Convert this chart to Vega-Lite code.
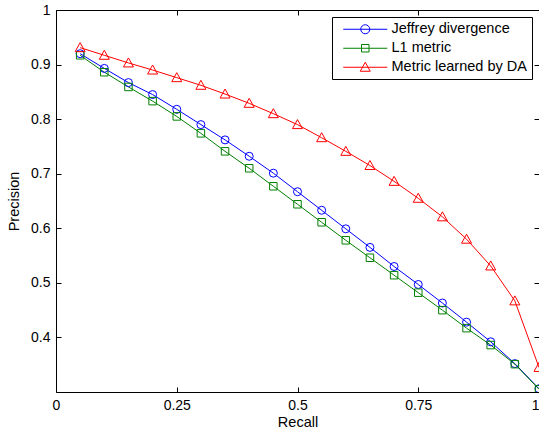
{
  "$schema": "https://vega.github.io/schema/vega-lite/v6.json",
  "width": 483,
  "height": 382,
  "autosize": {"type": "none"},
  "padding": {"left": 56, "top": 10, "right": 0, "bottom": 39},
  "background": "white",
  "config": {
    "font": "Liberation Sans",
    "view": {"stroke": "black", "strokeWidth": 1},
    "axis": {
      "grid": false,
      "domain": false,
      "tickColor": "black",
      "tickSize": -5,
      "tickWidth": 1,
      "labelColor": "black",
      "labelFont": "Liberation Sans",
      "labelFontSize": 14,
      "titleFont": "Liberation Sans",
      "titleFontSize": 14.5,
      "titleFontWeight": "normal",
      "titleColor": "black"
    },
    "legend": {
      "orient": "top-right",
      "offset": 7,
      "strokeColor": "black",
      "fillColor": "white",
      "padding": 5,
      "cornerRadius": 0,
      "labelFont": "Liberation Sans",
      "labelFontSize": 14.5,
      "labelColor": "black",
      "labelLimit": 0,
      "symbolSize": 100,
      "symbolStrokeWidth": 1,
      "rowPadding": 4,
      "labelOffset": 36,
      "symbolOffset": 4
    }
  },
  "data": {
    "values": [
      {"recall": 0.05, "precision": 0.920, "method": "Jeffrey divergence"},
      {"recall": 0.10, "precision": 0.893, "method": "Jeffrey divergence"},
      {"recall": 0.15, "precision": 0.867, "method": "Jeffrey divergence"},
      {"recall": 0.20, "precision": 0.845, "method": "Jeffrey divergence"},
      {"recall": 0.25, "precision": 0.818, "method": "Jeffrey divergence"},
      {"recall": 0.30, "precision": 0.790, "method": "Jeffrey divergence"},
      {"recall": 0.35, "precision": 0.762, "method": "Jeffrey divergence"},
      {"recall": 0.40, "precision": 0.732, "method": "Jeffrey divergence"},
      {"recall": 0.45, "precision": 0.701, "method": "Jeffrey divergence"},
      {"recall": 0.50, "precision": 0.667, "method": "Jeffrey divergence"},
      {"recall": 0.55, "precision": 0.633, "method": "Jeffrey divergence"},
      {"recall": 0.60, "precision": 0.599, "method": "Jeffrey divergence"},
      {"recall": 0.65, "precision": 0.565, "method": "Jeffrey divergence"},
      {"recall": 0.70, "precision": 0.530, "method": "Jeffrey divergence"},
      {"recall": 0.75, "precision": 0.497, "method": "Jeffrey divergence"},
      {"recall": 0.80, "precision": 0.463, "method": "Jeffrey divergence"},
      {"recall": 0.85, "precision": 0.428, "method": "Jeffrey divergence"},
      {"recall": 0.90, "precision": 0.392, "method": "Jeffrey divergence"},
      {"recall": 0.95, "precision": 0.352, "method": "Jeffrey divergence"},
      {"recall": 1.00, "precision": 0.306, "method": "Jeffrey divergence"},
      {"recall": 0.05, "precision": 0.917, "method": "L1 metric"},
      {"recall": 0.10, "precision": 0.886, "method": "L1 metric"},
      {"recall": 0.15, "precision": 0.859, "method": "L1 metric"},
      {"recall": 0.20, "precision": 0.833, "method": "L1 metric"},
      {"recall": 0.25, "precision": 0.805, "method": "L1 metric"},
      {"recall": 0.30, "precision": 0.774, "method": "L1 metric"},
      {"recall": 0.35, "precision": 0.741, "method": "L1 metric"},
      {"recall": 0.40, "precision": 0.710, "method": "L1 metric"},
      {"recall": 0.45, "precision": 0.677, "method": "L1 metric"},
      {"recall": 0.50, "precision": 0.644, "method": "L1 metric"},
      {"recall": 0.55, "precision": 0.611, "method": "L1 metric"},
      {"recall": 0.60, "precision": 0.578, "method": "L1 metric"},
      {"recall": 0.65, "precision": 0.546, "method": "L1 metric"},
      {"recall": 0.70, "precision": 0.514, "method": "L1 metric"},
      {"recall": 0.75, "precision": 0.482, "method": "L1 metric"},
      {"recall": 0.80, "precision": 0.450, "method": "L1 metric"},
      {"recall": 0.85, "precision": 0.417, "method": "L1 metric"},
      {"recall": 0.90, "precision": 0.386, "method": "L1 metric"},
      {"recall": 0.95, "precision": 0.351, "method": "L1 metric"},
      {"recall": 1.00, "precision": 0.305, "method": "L1 metric"},
      {"recall": 0.05, "precision": 0.931, "method": "Metric learned by DA"},
      {"recall": 0.10, "precision": 0.917, "method": "Metric learned by DA"},
      {"recall": 0.15, "precision": 0.903, "method": "Metric learned by DA"},
      {"recall": 0.20, "precision": 0.890, "method": "Metric learned by DA"},
      {"recall": 0.25, "precision": 0.876, "method": "Metric learned by DA"},
      {"recall": 0.30, "precision": 0.862, "method": "Metric learned by DA"},
      {"recall": 0.35, "precision": 0.846, "method": "Metric learned by DA"},
      {"recall": 0.40, "precision": 0.829, "method": "Metric learned by DA"},
      {"recall": 0.45, "precision": 0.810, "method": "Metric learned by DA"},
      {"recall": 0.50, "precision": 0.790, "method": "Metric learned by DA"},
      {"recall": 0.55, "precision": 0.766, "method": "Metric learned by DA"},
      {"recall": 0.60, "precision": 0.741, "method": "Metric learned by DA"},
      {"recall": 0.65, "precision": 0.715, "method": "Metric learned by DA"},
      {"recall": 0.70, "precision": 0.686, "method": "Metric learned by DA"},
      {"recall": 0.75, "precision": 0.655, "method": "Metric learned by DA"},
      {"recall": 0.80, "precision": 0.621, "method": "Metric learned by DA"},
      {"recall": 0.85, "precision": 0.580, "method": "Metric learned by DA"},
      {"recall": 0.90, "precision": 0.531, "method": "Metric learned by DA"},
      {"recall": 0.95, "precision": 0.467, "method": "Metric learned by DA"},
      {"recall": 1.00, "precision": 0.345, "method": "Metric learned by DA"}
    ]
  },
  "resolve": {"axis": {"x": "independent", "y": "independent"}},
  "layer": [
    {
      "mark": {"type": "line", "strokeWidth": 1, "clip": true},
      "encoding": {
        "x": {
          "field": "recall", "type": "quantitative",
          "scale": {"domain": [0, 1], "nice": false, "zero": false},
          "axis": {"orient": "bottom", "values": [0, 0.25, 0.5, 0.75, 1], "labelExpr": "datum.value", "labelFlush": false, "labelAlign": {"expr": "datum.value == 1 ? 'right' : 'center'"}, "labelPadding": 11, "title": "Recall", "titlePadding": 3}
        },
        "y": {
          "field": "precision", "type": "quantitative",
          "scale": {"domain": [0.3, 1], "nice": false, "zero": false},
          "axis": {"orient": "left", "values": [0.4, 0.5, 0.6, 0.7, 0.8, 0.9, 1], "labelExpr": "datum.value", "labelPadding": 11, "title": "Precision", "titlePadding": 9}
        },
        "color": {
          "field": "method", "type": "nominal",
          "scale": {"domain": ["Jeffrey divergence", "L1 metric", "Metric learned by DA"], "range": ["#0000ff", "#008000", "#ff0000"]},
          "legend": {
            "title": null,
            "encode": {
              "symbols": {
                "update": {
                  "shape": {"signal": "datum.value === 'Jeffrey divergence' ? 'M-1,0H7.8M4.3,0A0.9,0.9 0 1,1 2.5,0A0.9,0.9 0 1,1 4.3,0' : datum.value === 'L1 metric' ? 'M-1,0H7.8M2.65,-0.75H4.15V0.75H2.65Z' : 'M-1,0H7.8M3.4,-1L4.4,0.8H2.4Z'"},
                  "fill": {"value": "transparent"},
                  "strokeWidth": {"value": 1}
                }
              }
            }
          }
        }
      }
    },
    {
      "transform": [{"filter": "datum.method === 'Jeffrey divergence'"}],
      "mark": {"type": "point", "shape": "circle", "color": "#0000ff", "filled": false, "strokeWidth": 1, "size": 64, "clip": true, "opacity": 1},
      "encoding": {
        "x": {
          "field": "recall", "type": "quantitative",
          "axis": {"orient": "top", "values": [0, 0.25, 0.5, 0.75, 1], "labels": false, "title": null}
        },
        "y": {
          "field": "precision", "type": "quantitative",
          "axis": {"orient": "right", "values": [0.4, 0.5, 0.6, 0.7, 0.8, 0.9, 1], "labels": false, "title": null}
        }
      }
    },
    {
      "transform": [{"filter": "datum.method === 'L1 metric'"}],
      "mark": {"type": "point", "shape": "M-0.9375,-0.9375H0.9375V0.9375H-0.9375Z", "color": "#008000", "filled": false, "strokeWidth": 1, "size": 64, "clip": true, "opacity": 1},
      "encoding": {
        "x": {"field": "recall", "type": "quantitative", "axis": null},
        "y": {"field": "precision", "type": "quantitative", "axis": null}
      }
    },
    {
      "transform": [{"filter": "datum.method === 'Metric learned by DA'"}],
      "mark": {"type": "point", "shape": "M0,-1.25L1.25,1H-1.25Z", "color": "#ff0000", "filled": false, "strokeWidth": 1, "size": 64, "clip": true, "opacity": 1},
      "encoding": {
        "x": {"field": "recall", "type": "quantitative", "axis": null},
        "y": {"field": "precision", "type": "quantitative", "axis": null}
      }
    }
  ]
}
